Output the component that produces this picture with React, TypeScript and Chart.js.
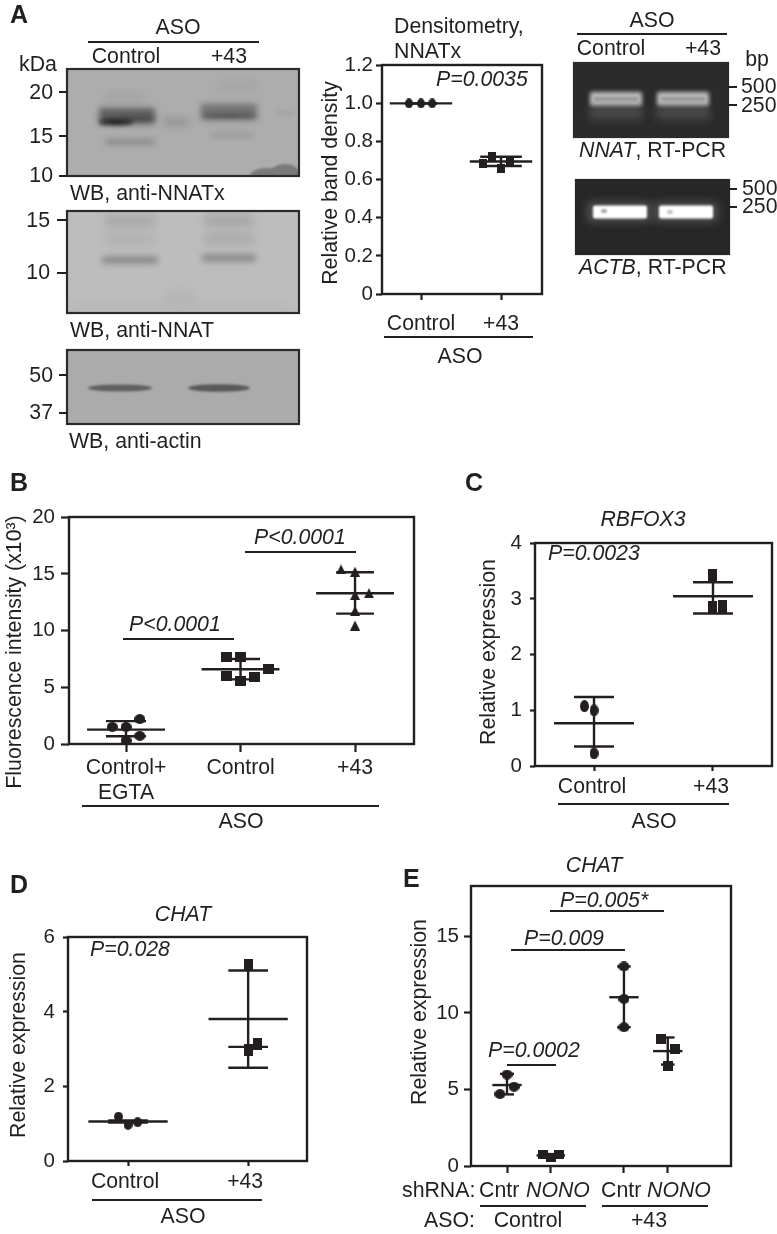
import React, { useEffect, useRef } from "react";
import { Chart, registerables } from "chart.js";
Chart.register(...registerables);

const INK = "#231f20";
const FONT = "'Liberation Sans', Arial, sans-serif";

// ---- Panel A densitometry
const aTicks = ["Control", "+43"];
const aControl = [1.0, 1.0, 1.0];
const aControlJitter = [-0.15, 0, 0.14];
const aTreated = [0.72, 0.683, 0.657, 0.7];
const aTreatedJitter = [-0.11, -0.22, 0, 0.11];
// ---- Panel B
const bTicks = [["Control+", "EGTA"], "Control", "+43"];
const bEgta = [1.5, 1.5, 2.2, 0.72, 0.3];
const bEgtaJitter = [-0.12, 0, 0.12, 0.12, 0];
const bControl = [7.7, 7.7, 6.6, 6.0, 5.9, 5.55];
const bControlJitter = [-0.122, 0, 0.24, -0.122, 0.122, 0];
const bTreated = [15.4, 15.2, 13.3, 13.15, 11.75, 10.45];
const bTreatedJitter = [-0.122, 0, 0.122, 0, 0, 0];
// ---- Panel C
const cTicks = ["Control", "+43"];
const cControl = [1.075, 1.0, 0.227];
const cControlJitter = [-0.08, 0, 0];
const cTreated = [3.42, 2.85, 2.87];
const cTreatedJitter = [0, 0, 0.08];
// ---- Panel D
const dTicks = ["Control", "+43"];
const dControl = [1.19, 0.97, 1.04];
const dControlJitter = [-0.08, 0, 0.08];
const dTreated = [5.26, 2.97, 3.14];
const dTreatedJitter = [0, 0, 0.08];
// ---- Panel E
const eControlCntr = [5.98, 5.18, 4.7];
const eControlCntrJitter = [0, 0.16, -0.16];
const eControlNono = [0.78, 0.56, 0.78];
const eControlNonoJitter = [-0.18, 0, 0.18];
const eTreatedCntr = [13.04, 10.92, 9.07];
const eTreatedCntrJitter = [0, 0, 0];
const eTreatedNono = [8.31, 7.66, 6.54];
const eTreatedNonoJitter = [-0.16, 0.16, 0];

type Marker = { shape: "circle" | "rect" | "tri"; w: number; h: number };
type Group = {
  x: number; values: number[]; jitter: number[]; mean: number; caps: number[];
  meanHalf: number; capHalf: number; marker: Marker;
};
type Panel = {
  plot: { l: number; r: number; t: number; b: number };
  xRange: number[]; yMax: number; step: number; yw: number; xh: number;
  tickLen: number; yPad: number; xPad: number; labelOffset?: number;
  xTicks: number[]; xLabels: any[]; decimals: number; groups: Group[]; fontSize: number;
};

const panels: Panel[] = [
  {
    plot: { l: 382, r: 542, t: 64, b: 294 }, xRange: [0.5125, 2.5125], yMax: 1.2, step: 0.2,
    yw: 50, xh: 50, tickLen: 6, yPad: 3, xPad: 12, xTicks: [1, 2], xLabels: aTicks, decimals: 1, fontSize: 20.5,
    groups: [
      { x: 1, values: aControl, jitter: aControlJitter, mean: 1.0, caps: [1.0, 1.0], meanHalf: 0.39, capHalf: 0.2, marker: { shape: "circle", w: 8, h: 10 } },
      { x: 2, values: aTreated, jitter: aTreatedJitter, mean: 0.695, caps: [0.72, 0.672], meanHalf: 0.39, capHalf: 0.26, marker: { shape: "rect", w: 8, h: 9 } },
    ],
  },
  {
    plot: { l: 69, r: 414, t: 513, b: 744 }, xRange: [0.502, 3.515], yMax: 20, step: 5,
    yw: 50, xh: 60, tickLen: 8, yPad: 6, xPad: 4, xTicks: [1, 2, 3], xLabels: bTicks, decimals: 0, fontSize: 20.5,
    groups: [
      { x: 1, values: bEgta, jitter: bEgtaJitter, mean: 1.27, caps: [2.02, 0.69], meanHalf: 0.34, capHalf: 0.175, marker: { shape: "circle", w: 11, h: 10 } },
      { x: 2, values: bControl, jitter: bControlJitter, mean: 6.6, caps: [7.5, 5.7], meanHalf: 0.34, capHalf: 0.17, marker: { shape: "rect", w: 11, h: 10 } },
      { x: 3, values: bTreated, jitter: bTreatedJitter, mean: 13.3, caps: [15.15, 11.5], meanHalf: 0.34, capHalf: 0.165, marker: { shape: "tri", w: 10, h: 10 } },
    ],
  },
  {
    plot: { l: 535, r: 772, t: 537, b: 766 }, xRange: [0.504, 2.496], yMax: 4, step: 1,
    yw: 40, xh: 45, tickLen: 5, yPad: 8, xPad: 4, labelOffset: -2, xTicks: [1, 2], xLabels: cTicks, decimals: 0, fontSize: 20.5,
    groups: [
      { x: 1, values: cControl, jitter: cControlJitter, mean: 0.767, caps: [1.24, 0.35], meanHalf: 0.336, capHalf: 0.168, marker: { shape: "circle", w: 9, h: 12 } },
      { x: 2, values: cTreated, jitter: cTreatedJitter, mean: 3.05, caps: [3.3, 2.74], meanHalf: 0.336, capHalf: 0.168, marker: { shape: "rect", w: 9, h: 13 } },
    ],
  },
  {
    plot: { l: 68, r: 307, t: 931, b: 1161 }, xRange: [0.5, 2.49], yMax: 6, step: 2,
    yw: 40, xh: 45, tickLen: 5, yPad: 8, xPad: 4, labelOffset: -3, xTicks: [1, 2], xLabels: dTicks, decimals: 0, fontSize: 20.5,
    groups: [
      { x: 1, values: dControl, jitter: dControlJitter, mean: 1.06, caps: [1.09, 1.03], meanHalf: 0.33, capHalf: 0.165, marker: { shape: "circle", w: 9, h: 10 } },
      { x: 2, values: dTreated, jitter: dTreatedJitter, mean: 3.81, caps: [5.11, 2.5, 3.06], meanHalf: 0.33, capHalf: 0.165, marker: { shape: "rect", w: 9, h: 12 } },
    ],
  },
  {
    plot: { l: 471, r: 731, t: 883, b: 1166 }, xRange: [0.178, 6.114], yMax: 18.28, step: 5,
    yw: 40, xh: 30, tickLen: 7, yPad: 5, xPad: 4, xTicks: [1, 2, 3.67, 4.67], xLabels: ["", "", "", ""], decimals: 0, fontSize: 20.5,
    groups: [
      { x: 1, values: eControlCntr, jitter: eControlCntrJitter, mean: 5.29, caps: [6.02, 4.68], meanHalf: 0.335, capHalf: 0.16, marker: { shape: "circle", w: 11, h: 10 } },
      { x: 2, values: eControlNono, jitter: eControlNonoJitter, mean: 0.69, caps: [0.78, 0.56], meanHalf: 0.325, capHalf: 0.16, marker: { shape: "rect", w: 10, h: 9 } },
      { x: 3.67, values: eTreatedCntr, jitter: eTreatedCntrJitter, mean: 11.03, caps: [13.04, 9.07], meanHalf: 0.335, capHalf: 0.155, marker: { shape: "circle", w: 11, h: 10 } },
      { x: 4.67, values: eTreatedNono, jitter: eTreatedNonoJitter, mean: 7.51, caps: [8.4, 6.63], meanHalf: 0.335, capHalf: 0.155, marker: { shape: "rect", w: 10, h: 10 } },
    ],
  },
];

function makeMarker(m: Marker) {
  const c = document.createElement("canvas");
  const s = 2;
  c.width = Math.ceil(m.w * s);
  c.height = Math.ceil(m.h * s);
  const g = c.getContext("2d")!;
  g.scale(s, s);
  g.fillStyle = INK;
  g.beginPath();
  if (m.shape === "circle") g.ellipse(m.w / 2, m.h / 2, m.w / 2, m.h / 2, 0, 0, Math.PI * 2);
  else if (m.shape === "rect") g.rect(0, 0, m.w, m.h);
  else { g.moveTo(m.w / 2, 0); g.lineTo(m.w, m.h); g.lineTo(0, m.h); g.closePath(); }
  g.fill();
  const out = document.createElement("canvas");
  out.width = Math.ceil(m.w);
  out.height = Math.ceil(m.h);
  out.getContext("2d")!.drawImage(c, 0, 0, out.width, out.height);
  return out;
}

function segment(x0: number, y0: number, x1: number, y1: number) {
  return {
    data: [{ x: x0, y: y0 }, { x: x1, y: y1 }], showLine: true, pointRadius: 0,
    borderColor: INK, borderWidth: 2.4, borderCapStyle: "butt", clip: false,
  };
}

function datasetsFor(p: Panel) {
  const out: any[] = [];
  for (const g of p.groups) {
    out.push(segment(g.x - g.meanHalf, g.mean, g.x + g.meanHalf, g.mean));
    g.caps.forEach((c) => out.push(segment(g.x - g.capHalf, c, g.x + g.capHalf, c)));
    out.push(segment(g.x, Math.max(...g.caps), g.x, Math.min(...g.caps)));
    out.push({
      data: g.values.map((v, i) => ({ x: g.x + g.jitter[i], y: v })),
      showLine: false, pointStyle: makeMarker(g.marker), pointRadius: 5,
      pointBackgroundColor: INK, pointBorderWidth: 0,
    });
  }
  return out;
}

const framePlugin = {
  id: "frame",
  afterDatasetsDraw(chart: any) {
    const { ctx, chartArea: a } = chart;
    ctx.save();
    ctx.strokeStyle = INK;
    ctx.lineWidth = 2.4;
    ctx.strokeRect(Math.round(a.left), Math.round(a.top), Math.round(a.right - a.left), Math.round(a.bottom - a.top));
    ctx.restore();
  },
};

function PanelChart({ p }: { p: Panel }) {
  const ref = useRef<HTMLCanvasElement>(null);
  const padT = 14, padR = 8;
  const W = p.plot.r - p.plot.l + p.yw + padR;
  const H = p.plot.b - p.plot.t + padT + p.xh;
  useEffect(() => {
    const chart = new Chart(ref.current!, {
      type: "scatter",
      data: { datasets: datasetsFor(p) },
      plugins: [framePlugin],
      options: {
        animation: false, responsive: false,
        layout: { padding: { top: padT, right: padR, left: 0, bottom: 0 } },
        plugins: { legend: { display: false }, tooltip: { enabled: false } },
        scales: {
          x: {
            type: "linear", min: p.xRange[0], max: p.xRange[1],
            afterFit: (s: any) => { s.height = p.xh; },
            afterBuildTicks: (s: any) => { s.ticks = p.xTicks.map((v) => ({ value: v })); },
            grid: { drawOnChartArea: false, drawTicks: true, tickLength: p.tickLen, tickWidth: 2.2, tickColor: INK },
            border: { display: false },
            ticks: {
              callback: (_: any, i: number) => p.xLabels[i], autoSkip: false, maxRotation: 0, minRotation: 0,
              padding: p.xPad, color: INK, labelOffset: p.labelOffset ?? 0,
              font: { family: FONT, size: p.fontSize + 0.7, lineHeight: 1.17 },
            },
          },
          y: {
            type: "linear", min: 0, max: p.yMax,
            afterFit: (s: any) => { s.width = p.yw; },
            grid: { drawOnChartArea: false, drawTicks: true, tickLength: p.tickLen, tickWidth: 2.2, tickColor: INK },
            border: { display: false },
            ticks: {
              stepSize: p.step, includeBounds: false, padding: p.yPad, color: INK,
              callback: (v: any) => (Number(v) === 0 ? "0" : Number(v).toFixed(p.decimals)),
              font: { family: FONT, size: p.fontSize },
            },
          },
        },
      } as any,
    } as any);
    return () => chart.destroy();
  }, []);
  return (
    <canvas
      ref={ref}
      width={W}
      height={H}
      style={{ position: "absolute", left: p.plot.l - p.yw, top: p.plot.t - padT, width: W, height: H }}
    />
  );
}

// ---- Annotations [text, x, baseline, anchor, italic]
type Note = [string, number, number, "start" | "middle" | "end", boolean?];
const notes: Note[] = [
  ["ASO", 178, 34, "middle"], ["Control", 126, 63, "middle"], ["+43", 229, 63, "middle"], ["kDa", 38, 71, "middle"],
  ["20", 53, 99, "end"], ["15", 53, 143, "end"], ["10", 53, 182, "end"], ["WB, anti-NNATx", 70, 200, "start"],
  ["15", 50, 227, "end"], ["10", 50, 279, "end"], ["WB, anti-NNAT", 70, 337, "start"],
  ["50", 53, 382, "end"], ["37", 53, 419, "end"], ["WB, anti-actin", 69, 448, "start"],
  ["Densitometry,", 394, 33, "start"], ["NNATx", 394, 58, "start"], ["P=0.0035", 436, 86, "start", true],
  ["ASO", 460, 363, "middle"],
  ["ASO", 652, 27, "middle"], ["Control", 611, 55, "middle"], ["+43", 703, 55, "middle"], ["bp", 757, 66, "middle"],
  ["500", 741, 93, "start"], ["250", 741, 112, "start"],
  ["500", 742, 195, "start"], ["250", 742, 213, "start"],
  ["P<0.0001", 254, 544, "start", true], ["P<0.0001", 129, 631, "start", true], ["ASO", 241, 828, "middle"],
  ["RBFOX3", 643, 526, "middle", true], ["P=0.0023", 548, 560, "start", true], ["ASO", 654, 828, "middle"],
  ["CHAT", 183, 921, "middle", true], ["P=0.028", 90, 956, "start", true], ["ASO", 183, 1223, "middle"],
  ["CHAT", 594, 872, "middle", true], ["P=0.005*", 560, 907, "start", true], ["P=0.009", 524, 945, "start", true],
  ["P=0.0002", 488, 1057, "start", true],
  ["shRNA:", 402, 1197, "start"], ["Cntr", 479, 1197, "start"], ["NONO", 526, 1197, "start", true],
  ["Cntr", 601, 1197, "start"], ["NONO", 647, 1197, "start", true],
  ["ASO:", 424, 1227, "start"], ["Control", 528, 1227, "middle"], ["+43", 649, 1227, "middle"],
];
const geneNotes: [string, string, number, number][] = [["NNAT", ", RT-PCR", 579, 157], ["ACTB", ", RT-PCR", 579, 274]];
const letters: [string, number, number][] = [["A", 10, 23], ["B", 10, 491], ["C", 465, 491], ["D", 10, 893], ["E", 403, 887]];
const rotated: [string, number, number][] = [
  ["Relative band density", 337, 183], ["Fluorescence intensity (x10³)", 21, 652],
  ["Relative expression", 495, 652], ["Relative expression", 25, 1045], ["Relative expression", 426, 1012],
];
const rules = [
  [88, 259, 42], [384, 533, 337], [577, 727, 34], [245, 356, 552], [123, 234, 639], [82, 379, 806],
  [558, 729, 804], [92, 262, 1200], [550, 664, 911], [511, 625, 950], [507, 556, 1065], [480, 586, 1206], [602, 708, 1206],
];
const sideTicks = [
  [59, 67, 92], [59, 67, 136], [59, 67, 176], [57, 66, 220], [57, 66, 273], [59, 67, 375], [59, 67, 413],
  [728, 737, 87], [728, 737, 105], [729, 737, 189], [729, 737, 207],
];

// ---- Blot images: [cx, cy, rx, ry, fill, opacity, blur, "e" for an ellipse]
const blots: { box: number[]; bg: string; edge: string; blobs: any[] }[] = [
  {
    box: [67, 69, 232, 107], bg: "#adadad", edge: "#2b2b2b",
    blobs: [
      [127, 116, 28, 8, "#484848", 0.8, "b25"], [116, 122, 17, 3, "#111", 0.85, "b2", "e"], [138, 119, 18, 2, "#333", 0.5, "b2", "e"],
      [130, 142, 25, 2.5, "#6a6a6a", 0.6, "b25"], [125, 97, 20, 4, "#888", 0.3, "b3"],
      [229, 112, 28, 8, "#5a5a5a", 0.72, "b25"], [229, 116, 28, 2, "#333", 0.55, "b2", "e"], [232, 135, 22, 2.5, "#808080", 0.45, "b25"],
      [237, 86, 20, 4, "#8d8d8d", 0.28, "b3"], [176, 122, 13, 4, "#777", 0.5, "b3"], [285, 113, 10, 2, "#888", 0.3, "b2"],
      [268, 176, 18, 8, "#7a7a7a", 1, "b1", "e"], [285, 174, 15, 10, "#7a7a7a", 1, "b1", "e"],
    ],
  },
  {
    box: [67, 211, 232, 102], bg: "#bdbdbd", edge: "#2b2b2b",
    blobs: [
      [130, 260, 28, 3.5, "#7b7b7b", 0.85, "b25"], [229, 258, 27, 3.5, "#7b7b7b", 0.85, "b25"],
      [130, 221, 25, 6, "#999", 0.55, "b3"], [229, 221, 25, 6, "#999", 0.6, "b3"],
      [130, 239, 25, 6, "#a5a5a5", 0.45, "b3"], [229, 239, 25, 5, "#999", 0.55, "b3"],
      [180, 297, 15, 7, "#aaa", 0.4, "b3"], [180, 306, 110, 3, "#aaa", 0.4, "b3"],
    ],
  },
  {
    box: [67, 350, 232, 74], bg: "#ababab", edge: "#2b2b2b",
    blobs: [[120, 388, 32, 3.6, "#5b5b5b", 0.95, "b1", "e"], [219, 388, 31, 3.8, "#555", 0.95, "b1", "e"]],
  },
  {
    box: [574, 63, 154, 74], bg: "#2b2b2b", edge: "#2b2b2b",
    blobs: [
      [616, 99, 26, 7, "#cfcfcf", 0.9, "b2"], [683, 99, 26, 7, "#cfcfcf", 0.9, "b2"],
      [616, 99, 22, 2.5, "#9a9a9a", 0.9, "b1"], [683, 99, 22, 2.5, "#9a9a9a", 0.9, "b1"],
      [616, 113, 27, 6, "#666", 0.55, "b3"], [683, 113, 27, 6, "#666", 0.55, "b3"],
    ],
  },
  {
    box: [576, 180, 153, 74], bg: "#272727", edge: "#272727",
    blobs: [
      [619, 212, 32, 10, "#777", 0.5, "b3"], [686, 212, 32, 10, "#777", 0.5, "b3"],
      [620, 212, 27, 6.5, "#ffffff", 1, "b1"], [686, 212, 27, 6.5, "#ffffff", 1, "b1"],
      [604, 211, 3, 2, "#999", 0.9, "b1"], [670, 212, 3, 2, "#bbb", 0.9, "b1"],
    ],
  },
];

function Overlay() {
  const textProps = { fontFamily: FONT, fontSize: 21.3, fill: INK };
  return (
    <svg width={777} height={1234} style={{ position: "absolute", left: 0, top: 0, pointerEvents: "none" }}>
      <defs>
        <filter id="b1" x="-50%" y="-100%" width="200%" height="300%"><feGaussianBlur stdDeviation="1" /></filter>
        <filter id="b2" x="-50%" y="-100%" width="200%" height="300%"><feGaussianBlur stdDeviation="2" /></filter>
        <filter id="b25" x="-50%" y="-200%" width="200%" height="500%"><feGaussianBlur stdDeviation="3" /></filter>
        <filter id="b3" x="-50%" y="-100%" width="200%" height="300%"><feGaussianBlur stdDeviation="4" /></filter>
        {blots.map((b, i) => (
          <clipPath id={"clip" + i} key={i}><rect x={b.box[0]} y={b.box[1]} width={b.box[2]} height={b.box[3]} /></clipPath>
        ))}
      </defs>
      {blots.map((b, i) => (
        <g key={i}>
          <g clipPath={`url(#clip${i})`}>
            <rect x={b.box[0]} y={b.box[1]} width={b.box[2]} height={b.box[3]} fill={b.bg} />
            {b.blobs.map((e: any[], j: number) =>
              e[7] === "e" ? (
                <ellipse key={j} cx={e[0]} cy={e[1]} rx={e[2]} ry={e[3]} fill={e[4]} opacity={e[5]} filter={`url(#${e[6]})`} />
              ) : (
                <rect key={j} x={e[0] - e[2]} y={e[1] - e[3]} width={e[2] * 2} height={e[3] * 2} rx={2} fill={e[4]} opacity={e[5]} filter={`url(#${e[6]})`} />
              )
            )}
          </g>
          <rect x={b.box[0]} y={b.box[1]} width={b.box[2]} height={b.box[3]} fill="none" stroke={b.edge} strokeWidth={2.2} />
        </g>
      ))}
      {rules.map((r, i) => <line key={i} x1={r[0]} x2={r[1]} y1={r[2]} y2={r[2]} stroke={INK} strokeWidth={2} />)}
      {sideTicks.map((r, i) => <line key={i} x1={r[0]} x2={r[1]} y1={r[2]} y2={r[2]} stroke={INK} strokeWidth={2} />)}
      {notes.map((n, i) => (
        <text key={i} x={n[1]} y={n[2]} textAnchor={n[3]} fontStyle={n[4] ? "italic" : "normal"} {...textProps}>{n[0]}</text>
      ))}
      {geneNotes.map((n, i) => (
        <text key={i} x={n[2]} y={n[3]} {...textProps}><tspan fontStyle="italic">{n[0]}</tspan>{n[1]}</text>
      ))}
      {letters.map((n, i) => (
        <text key={i} x={n[1]} y={n[2]} fontFamily={FONT} fontWeight="bold" fontSize={25} fill={INK}>{n[0]}</text>
      ))}
      {rotated.map((n, i) => (
        <text key={i} transform={`translate(${n[1]},${n[2]}) rotate(-90)`} textAnchor="middle" {...textProps}>{n[0]}</text>
      ))}
    </svg>
  );
}

export default function App() {
  return (
    <div style={{ position: "absolute", left: 0, top: 0, width: 777, height: 1234, background: "#fff", overflow: "hidden" }}>
      {panels.map((p, i) => <PanelChart key={i} p={p} />)}
      <Overlay />
    </div>
  );
}
